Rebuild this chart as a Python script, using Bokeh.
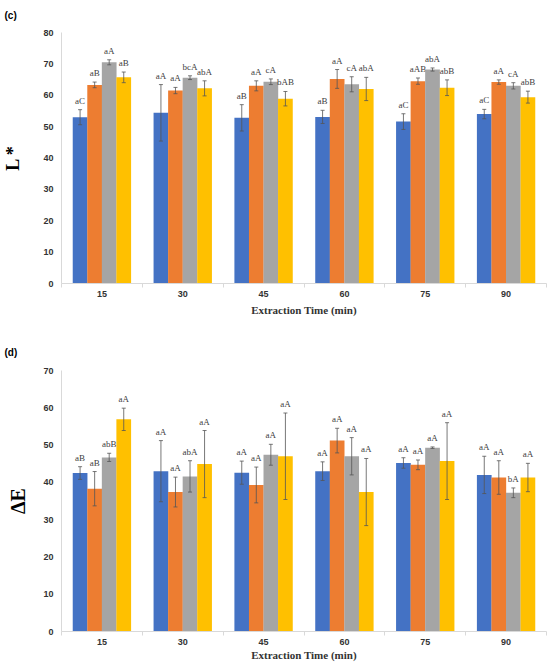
from bokeh.plotting import figure
from bokeh.models import (FactorRange, Range1d, LinearAxis, FixedTicker,
                          ColumnDataSource)
from bokeh.transform import dodge
from bokeh.layouts import column
from bokeh.embed import file_html
from bokeh.resources import INLINE
from bokeh.core.properties import value

# ---------------- data ----------------
times = ["15", "30", "45", "60", "75", "90"]
colors = ["#4472C4", "#ED7D31", "#A5A5A5", "#FFC000"]

# (c) L*
L_s1 = [53.0, 54.4, 52.8, 53.1, 51.6, 54.0]
L_s1_err = [2.4, 9.0, 4.2, 2.1, 2.5, 1.5]
L_s1_lbl = ["aC", "aA", "aB", "aB", "aC", "aC"]
L_s2 = [63.3, 61.5, 63.0, 65.2, 64.5, 64.2]
L_s2_err = [0.9, 1.0, 1.6, 3.0, 1.0, 0.7]
L_s2_lbl = ["aB", "aA", "aA", "aA", "aAB", "aA"]
L_s3 = [70.5, 65.6, 64.3, 63.5, 68.2, 63.0]
L_s3_err = [0.8, 0.6, 0.9, 2.4, 0.5, 1.0]
L_s3_lbl = ["aA", "bcA", "cA", "cA", "abA", "cA"]
L_s4 = [65.7, 62.2, 58.9, 62.0, 62.4, 59.4]
L_s4_err = [1.7, 2.4, 2.3, 3.7, 2.5, 1.9]
L_s4_lbl = ["aB", "abA", "bAB", "abA", "abB", "abB"]

# (d) Delta E
dE_s1 = [42.5, 43.0, 42.6, 43.0, 45.2, 42.0]
dE_s1_err = [1.7, 8.2, 3.1, 2.5, 1.4, 5.0]
dE_s1_lbl = ["aB", "aA", "aA", "aA", "aA", "aA"]
dE_s2 = [38.3, 37.4, 39.3, 51.2, 44.7, 41.3]
dE_s2_err = [4.6, 4.0, 4.8, 3.3, 1.3, 4.5]
dE_s2_lbl = ["aB", "aA", "aA", "aA", "aA", "aA"]
dE_s3 = [46.7, 41.6, 47.4, 47.0, 49.3, 37.2]
dE_s3_err = [1.1, 4.2, 2.8, 5.0, 0.2, 1.3]
dE_s3_lbl = ["abB", "abA", "aA", "aA", "aA", "bA"]
dE_s4 = [56.9, 44.9, 47.0, 37.4, 45.7, 41.3]
dE_s4_err = [3.0, 9.0, 11.6, 9.0, 10.3, 3.8]
dE_s4_lbl = ["aA", "aA", "aA", "aA", "aA", "aA"]

y_ticks_L = [0, 10, 20, 30, 40, 50, 60, 70, 80]
y_ticks_dE = [0, 10, 20, 30, 40, 50, 60, 70]

offsets = [-0.27, -0.09, 0.09, 0.27]
AX_GRAY = "#D9D9D9"
TXT = "#333333"


def make_panel(title, title_standoff, ylab, ylab_size, ylab_standoff, ticks,
               series, height, bt, bb, xlab_standoff):
    cat = FactorRange(factors=times, range_padding=0)
    p = figure(width=550, height=height,
               x_range=cat, y_range=Range1d(0, ticks[-1]),
               output_backend="svg", toolbar_location=None,
               x_axis_location=None, y_axis_location=None,
               min_border_left=55, min_border_right=4,
               min_border_top=bt, min_border_bottom=bb)
    p.xgrid.visible = False
    p.ygrid.visible = False
    p.outline_line_color = None

    p.title.text = title
    p.title.text_font = "Liberation Sans"
    p.title.text_font_style = "bold"
    p.title.text_font_size = "10px"
    p.title.text_color = "#000000"
    p.title.align = "left"
    p.title.vertical_align = "top"
    p.title.offset = -57
    p.title.standoff = title_standoff

    for k, (vals, errs, lbls) in enumerate(series):
        src = ColumnDataSource(dict(
            t=times, v=vals,
            lo=[a - b for a, b in zip(vals, errs)],
            hi=[a + b for a, b in zip(vals, errs)],
            lbl=lbls))
        xd = dodge("t", offsets[k], range=cat)
        p.vbar(x=xd, top="v", width=0.182, source=src, fill_color=colors[k],
               line_color=None)
        p.segment(x0=xd, y0="lo", x1=xd, y1="hi", source=src,
                  line_color="#555555", line_width=0.8)
        for yk in ("lo", "hi"):
            p.scatter(x=xd, y=yk, marker="dash", size=4, source=src,
                      line_color="#555555", line_width=0.8)
        p.text(x=xd, y="hi", text="lbl", source=src,
               text_align="center", text_baseline="bottom", y_offset=-4,
               text_font=value("Liberation Serif"), text_font_size="9px",
               text_color="#404040")

    yax = LinearAxis(ticker=FixedTicker(ticks=ticks), axis_label=ylab)
    yax.axis_line_color = AX_GRAY
    yax.major_tick_line_color = None
    yax.minor_tick_line_color = None
    yax.major_tick_out = 0
    yax.major_tick_in = 0
    yax.major_label_standoff = 8
    yax.major_label_text_font = "Liberation Sans"
    yax.major_label_text_font_style = "bold"
    yax.major_label_text_font_size = "9px"
    yax.major_label_text_color = TXT
    yax.axis_label_text_font = "Liberation Serif"
    yax.axis_label_text_font_style = "bold"
    yax.axis_label_text_font_size = ylab_size
    yax.axis_label_text_color = "#000000"
    yax.axis_label_standoff = ylab_standoff
    p.add_layout(yax, "left")

    # numeric axis on the factor range: labels at category centres,
    # small ticks at category boundaries (Excel style)
    centers = [i + 0.5 for i in range(len(times))]
    bounds = [float(i) for i in range(len(times) + 1)]
    xax = LinearAxis(ticker=FixedTicker(ticks=centers, minor_ticks=bounds),
                     axis_label="Extraction Time (min)")
    xax.major_label_overrides = {c: t for c, t in zip(centers, times)}
    xax.axis_line_color = AX_GRAY
    xax.major_tick_line_color = None
    xax.major_tick_out = 0
    xax.major_tick_in = 0
    xax.minor_tick_line_color = AX_GRAY
    xax.minor_tick_out = 4
    xax.minor_tick_in = 0
    xax.major_label_standoff = 3
    xax.major_label_text_font = "Liberation Sans"
    xax.major_label_text_font_style = "bold"
    xax.major_label_text_font_size = "9px"
    xax.major_label_text_color = TXT
    xax.axis_label_text_font = "Liberation Serif"
    xax.axis_label_text_font_style = "bold"
    xax.axis_label_text_font_size = "11px"
    xax.axis_label_text_color = TXT
    xax.axis_label_standoff = xlab_standoff
    p.add_layout(xax, "below")
    return p


p1 = make_panel("(c)", 19, "L *", "18px", 17, y_ticks_L,
                [(L_s1, L_s1_err, L_s1_lbl), (L_s2, L_s2_err, L_s2_lbl),
                 (L_s3, L_s3_err, L_s3_lbl), (L_s4, L_s4_err, L_s4_lbl)],
                height=335, bt=31, bb=52, xlab_standoff=4)
p2 = make_panel("(d)", 22, "ΔE", "20px", 11, y_ticks_dE,
                [(dE_s1, dE_s1_err, dE_s1_lbl), (dE_s2, dE_s2_err, dE_s2_lbl),
                 (dE_s3, dE_s3_err, dE_s3_lbl), (dE_s4, dE_s4_err, dE_s4_lbl)],
                height=329, bt=34, bb=33, xlab_standoff=1)

layout = column(p1, p2)
open("out.html", "w").write(file_html(layout, INLINE))
